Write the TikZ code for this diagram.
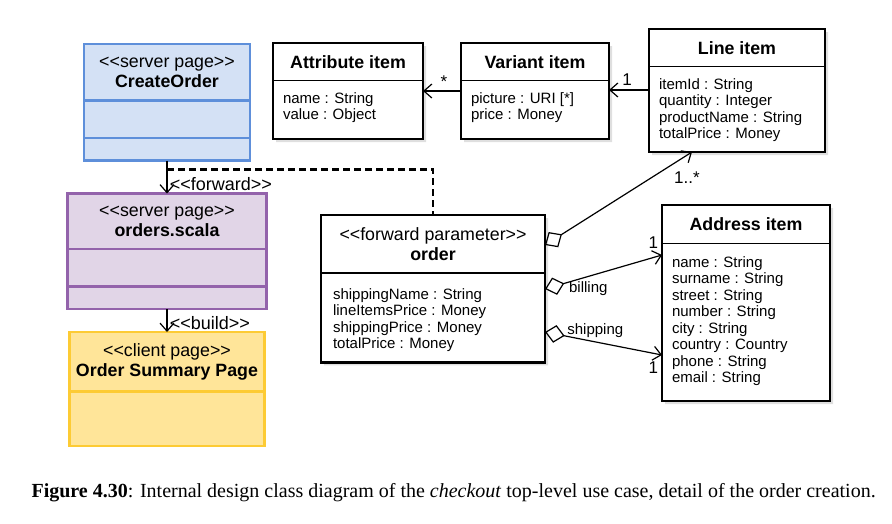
\documentclass[tikz,border=0pt]{standalone}
\usepackage{fontspec}
\setmainfont{Liberation Serif}
\setsansfont{Liberation Sans}
\usetikzlibrary{arrows.meta,positioning,shapes.multipart,shadows}

\definecolor{pageblue}{HTML}{D4E1F5}
\definecolor{pageblueline}{HTML}{5E8FDA}
\definecolor{pagepurple}{HTML}{E1D5E7}
\definecolor{pagepurpleline}{HTML}{9363AB}
\definecolor{pageyellow}{HTML}{FFE599}
\definecolor{pageyellowline}{HTML}{FDCB34}

\newcommand{\classhead}[3]{\parbox[c][#1][c]{#2}{\centering\fontsize{17.8}{20.5}\selectfont #3}}
\newcommand{\classbody}[5]{\parbox[t][#1][t]{#2}{\raggedright\leftskip=#3\rule{0pt}{#4}#5}}

\tikzset{
  classbox/.style={rectangle split, rectangle split parts=2, draw, line width=1.5pt,
                   inner sep=0pt, outer sep=0pt, fill=white, anchor=north west,
                   drop shadow={shadow xshift=3pt,shadow yshift=-3pt,opacity=.25},
                   font=\sffamily\fontsize{15}{16.5}\selectfont},
  pagebox/.style={rectangle split, rectangle split parts=3, line width=2.5pt,
                  inner sep=0pt, outer sep=0pt, anchor=north west, font=\sffamily},
  assoc/.style={line width=1.2pt, -{Straight Barb[length=8pt,width=14pt]}},
  aggr/.style={line width=1.2pt, {Diamond[open,length=20pt,width=18pt]}-{Straight Barb[length=8pt,width=14pt]}},
  dashline/.style={line width=2.2pt, dash pattern=on 7pt off 4pt},
  stereo/.style={font=\sffamily\fontsize{18}{18}\selectfont},
  role/.style={font=\sffamily\fontsize{15}{15}\selectfont},
  mult/.style={font=\sffamily\fontsize{17}{17}\selectfont},
}

\begin{document}
\begin{tikzpicture}[x=1pt,y=-1pt]
  \useasboundingbox (0,0) rectangle (892,523);

  % pages
  \node[pagebox, fill=pageblue, draw=pageblueline] (createorder) at (84,44)
    {\classhead{54pt}{166pt}{<{}<server page>{}>\\\bfseries CreateOrder}%
     \nodepart{two}\classhead{35pt}{166pt}{}%
     \nodepart{three}\classhead{20pt}{166pt}{}};
  \node[pagebox, fill=pagepurple, draw=pagepurpleline,
        below=33pt of createorder.south, anchor=north] (orders)
    {\classhead{53pt}{199pt}{<{}<server page>{}>\\\bfseries orders.scala}%
     \nodepart{two}\classhead{35pt}{199pt}{}%
     \nodepart{three}\classhead{20pt}{199pt}{}};
  \node[pagebox, rectangle split parts=2, fill=pageyellow, draw=pageyellowline,
        below=23pt of orders.south, anchor=north] (summary)
    {\classhead{57pt}{195pt}{<{}<client page>{}>\\\bfseries Order Summary Page}%
     \nodepart{two}\classhead{52pt}{195pt}{}};

  % classes
  \node[classbox] (attr) at (273,43)
    {\classhead{36pt}{150pt}{\bfseries Attribute item}%
     \nodepart{two}\classbody{57pt}{150pt}{10pt}{22pt}{name : String\\value : Object}};
  \node[classbox, right=38pt of attr.north east, anchor=north west] (variant)
    {\classhead{36pt}{148pt}{\bfseries Variant item}%
     \nodepart{two}\classbody{57pt}{148pt}{10pt}{22pt}{picture : URI [*]\\price : Money}};
  \node[classbox] (line) at (649,29)
    {\classhead{36pt}{176pt}{\bfseries Line item}%
     \nodepart{two}\classbody{84pt}{176pt}{10pt}{22pt}{itemId : String\\quantity : Integer\\productName : String\\totalPrice : Money}};
  \node[classbox, line width=2.2pt] (order) at (321,215)
    {\classhead{56pt}{224pt}{<{}<forward parameter>{}>\\\bfseries order}%
     \nodepart{two}\classbody{87pt}{224pt}{12pt}{25pt}{shippingName : String\\lineItemsPrice : Money\\shippingPrice : Money\\totalPrice : Money}};
  \node[classbox] (address) at (662,205)
    {\classhead{37pt}{168pt}{\bfseries Address item}%
     \nodepart{two}\classbody{156pt}{168pt}{10pt}{23pt}{name : String\\surname : String\\street : String\\number : String\\city : String\\country : Country\\phone : String\\email : String}};

  % page flow
  \draw[assoc] (createorder.south) -- (orders.north)
    coordinate[pos=0.27] (fwdsplit)
    node[stereo, pos=0.7, right, xshift=-1pt] {<{}<forward>{}>};
  \draw[assoc] (orders.south) -- (summary.north)
    node[stereo, pos=0.6, right, xshift=-1pt] {<{}<build>{}>};
  \draw[dashline] (fwdsplit) -| (order.north);

  % associations
  \draw[assoc] ([yshift=-48pt]variant.north west) -- ([yshift=-48pt]attr.north east)
    node[mult, pos=0.45, above] {*};
  \draw[assoc] ([yshift=-61pt]line.north west) -- ([yshift=-47pt]variant.north east)
    node[mult, pos=0.55, above, yshift=1pt] {1};
  \draw[aggr] ([yshift=-30pt]order.north east) -- ([xshift=43pt]line.south west)
    node[mult, at end, anchor=north, xshift=-5pt, yshift=-16pt] {1..*};
  \draw[aggr] ([yshift=-74pt]order.north east) -- ([yshift=-50pt]address.north west)
    node[role, pos=0.37, below=1pt] {billing}
    node[mult, at end, above left, yshift=3pt] {1};
  \draw[aggr] ([yshift=-117pt]order.north east) -- ([yshift=-150pt]address.north west)
    node[role, pos=0.43, above=0pt] {shipping}
    node[mult, at end, below left, yshift=-3pt] {1};

  % caption
  \node[anchor=base west, font=\rmfamily\fontsize{20}{22}\selectfont] (caption) at (28,497)
    {\textbf{Figure 4.30}: Internal design class diagram of the \textit{checkout} top-level use case, detail of the order creation.};
\end{tikzpicture}
\end{document}
